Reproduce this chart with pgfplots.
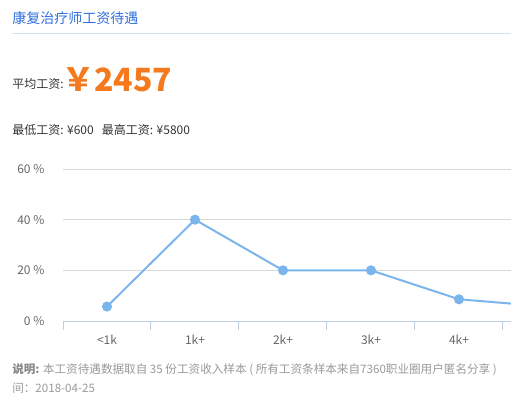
\documentclass[border=0pt]{standalone}
\usepackage{fontspec}
\setmainfont{Noto Sans CJK SC}
\usepackage{pgfplots}
\pgfplotsset{compat=1.18}
\definecolor{titleblue}{HTML}{2F6FDE}
\definecolor{rulecol}{HTML}{D6E0F0}
\definecolor{orng}{HTML}{F57A1E}
\definecolor{dark}{HTML}{333333}
\definecolor{lbl}{HTML}{666666}
\definecolor{note}{HTML}{999999}
\definecolor{notebold}{HTML}{888888}
\definecolor{axiscol}{HTML}{C0D0E0}
\definecolor{gridcol}{HTML}{D8D8D8}
\definecolor{series}{HTML}{7CB5EC}
\begin{document}
\begin{tikzpicture}
\path[use as bounding box, clip] (0,0) rectangle (383.25pt,303pt);
% header
\node[anchor=west, inner sep=0pt, text=titleblue, font=\fontsize{10.5pt}{12pt}\selectfont] at (9pt,289.5pt) {康复治疗师工资待遇};
\draw[rulecol, line width=0.75pt] (9pt,277.5pt) -- (383.25pt,277.5pt);
\node[anchor=base west, inner sep=0pt, text=dark, font=\fontsize{9pt}{10pt}\selectfont] at (9pt,236.25pt) {平均工资:};
\node[anchor=base west, inner sep=0pt, text=orng, font=\fontsize{24pt}{26pt}\selectfont\bfseries] at (46.5pt,234.5pt) {￥2457};
\node[anchor=base west, inner sep=0pt, text=dark, font=\fontsize{9pt}{10pt}\selectfont] at (9pt,201.75pt) {最低工资: ¥600\hspace{6pt}最高工资: ¥5800};
% footer
\node[anchor=base west, inner sep=0pt, text=note, font=\fontsize{8.7pt}{10pt}\selectfont] at (9pt,23.25pt) {{\color{notebold}\bfseries 说明:} 本工资待遇数据取自 35 份工资收入样本 ( 所有工资条样本来自7360职业圈用户匿名分享 )};
\node[anchor=base west, inner sep=0pt, text=note, font=\fontsize{8.7pt}{10pt}\selectfont] at (9pt,9pt) {间：2018-04-25};
\begin{axis}[
  at={(47.25pt,62.25pt)}, anchor=south west,
  scale only axis, width=396pt, height=114pt,
  xmin=-0.5, xmax=5.5, ymin=0, ymax=60,
  axis x line*=bottom, axis y line*=left,
  x axis line style={axiscol, line width=0.75pt, -},
  y axis line style={draw=none},
  xtick={0,1,2,3,4},
  xticklabels={<1k,1k+,2k+,3k+,4k+},
  minor xtick={-0.5,0.5,1.5,2.5,3.5,4.5,5.5},
  major x tick style={draw=none},
  minor x tick style={axiscol, line width=0.75pt},
  minor tick length=6.75pt,
  tick align=outside,
  ytick={0,20,40,60},
  ytick style={draw=none},
  ymajorgrids,
  grid style={gridcol, line width=0.75pt},
  yticklabel={\pgfmathprintnumber{\tick}\ \%},
  /pgf/number format/assume math mode=true,
  tick label style={font=\fontsize{9pt}{10pt}\selectfont, text=lbl},
  xticklabel style={anchor=north, yshift=-3pt},
  yticklabel style={anchor=east, inner sep=0pt, xshift=-9.5pt},
  clip=true,
]
\addplot[series, line width=1.5pt, mark=*, mark size=3pt, mark options={fill=series, draw=series}] coordinates {
 (0,5.71) (1,40) (2,20) (3,20) (4,8.57) (5,5.71)
};
\end{axis}
\end{tikzpicture}
\end{document}
